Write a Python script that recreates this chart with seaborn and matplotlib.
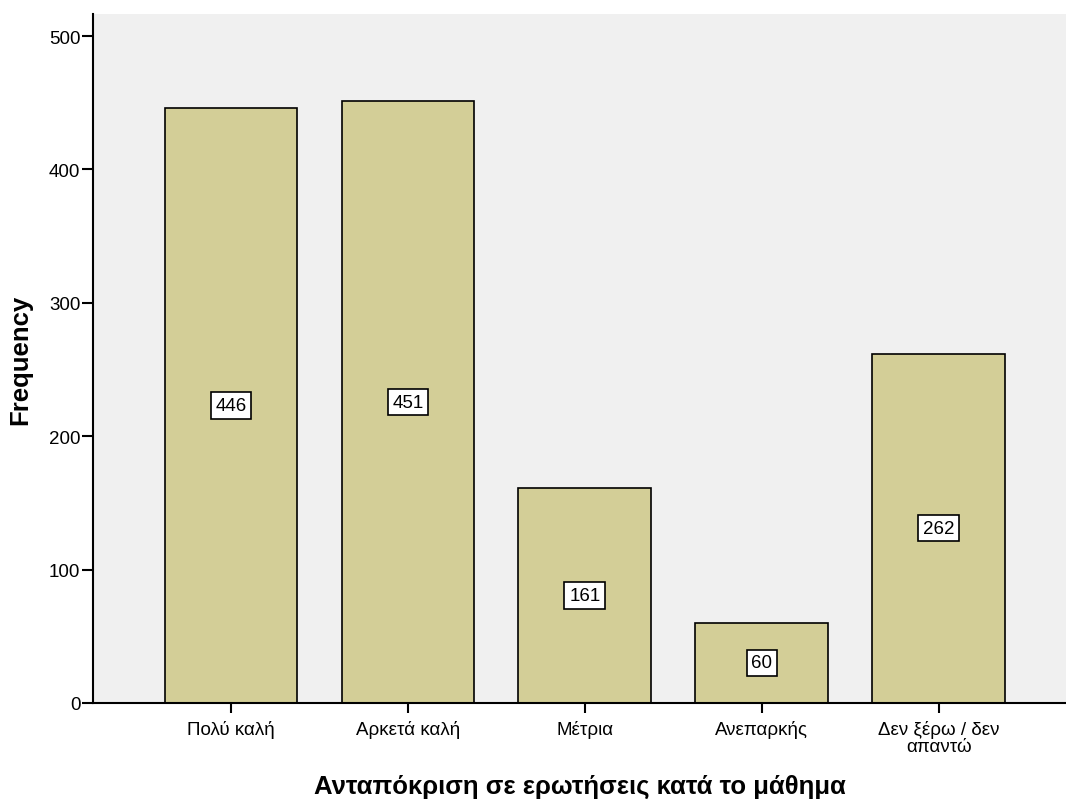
import matplotlib
matplotlib.use('Agg')
import matplotlib.pyplot as plt
import seaborn as sns
import pandas as pd

# Data
categories = ['Πολύ καλή', 'Αρκετά καλή', 'Μέτρια', 'Ανεπαρκής', 'Δεν ξέρω / δεν\nαπαντώ']
counts = [446, 451, 161, 60, 262]

df = pd.DataFrame({'category': categories, 'count': counts})

sns.set_style('white')
plt.rcParams['font.family'] = ['Liberation Sans', 'DejaVu Sans']
plt.rcParams['text.color'] = 'black'
plt.rcParams['axes.labelcolor'] = 'black'
plt.rcParams['xtick.color'] = 'black'
plt.rcParams['ytick.color'] = 'black'

fig = plt.figure(figsize=(10.66, 8.03), dpi=100)
ax = fig.add_axes([0.0872, 0.1233, 0.9128, 0.858])
ax.set_facecolor('#F0F0F0')

sns.barplot(data=df, x='category', y='count', color='#D3CE97', width=0.75,
            edgecolor='black', linewidth=1.2, saturation=1, ax=ax)

# value labels in white boxes at mid-height
for i, v in enumerate(counts):
    ax.text(i, v / 2, str(v), ha='center', va='center', fontsize=13.5,
            color='black',
            bbox=dict(boxstyle='square,pad=0.25', facecolor='white',
                      edgecolor='black', linewidth=1.2))

ax.set_xlim(-0.78, 4.72)
ax.set_ylim(0, 516.5)
ax.set_yticks([0, 100, 200, 300, 400, 500])

for side in ['top', 'right']:
    ax.spines[side].set_visible(False)
for side in ['left', 'bottom']:
    ax.spines[side].set_color('black')
    ax.spines[side].set_linewidth(1.5)

ax.tick_params(axis='y', left=True, direction='out', length=8, width=1.5,
               labelsize=13.5, pad=1)
ax.tick_params(axis='x', bottom=True, direction='out', length=7, width=1.5,
               labelsize=13.5, pad=5)
for lbl in ax.get_xticklabels():
    lbl.set_linespacing(1.0)

ax.set_xlabel('Ανταπόκριση σε ερωτήσεις κατά το μάθημα', fontsize=18.5,
              fontweight='bold', labelpad=14)
ax.set_ylabel('Frequency', fontsize=18.5, fontweight='bold', labelpad=12)

fig.savefig('out.png', dpi=100)
